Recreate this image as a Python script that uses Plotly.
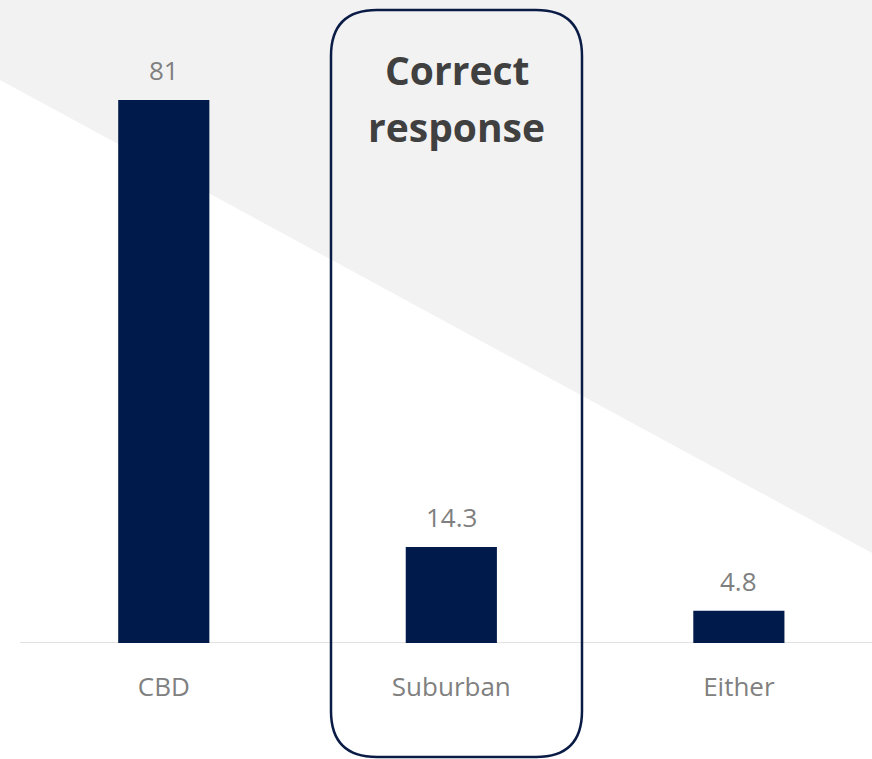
import plotly.graph_objects as go

categories = ["CBD", "Suburban", "Either"]
values = [81, 14.3, 4.8]
value_labels = ["81", "14.3", "4.8"]
highlight_lines = ["Correct", "response"]

W, H = 872, 759
ML, MR, MT, MB = 20, 0, 0, 116
PW, PH = W - ML - MR, H - MT - MB

def px(x):
    return (x - ML) / PW

def py(y):
    return (H - MB - y) / PH

fig = go.Figure()
fig.add_trace(go.Bar(
    x=list(range(len(categories))), y=values,
    marker=dict(color="#001A4C", line=dict(width=0)),
    width=0.317, hoverinfo="skip",
))

for i, (v, t) in enumerate(zip(values, value_labels)):
    fig.add_annotation(x=i, y=v, text=t, showarrow=False, yanchor="bottom",
                       yshift=10, font=dict(size=26, color="#7F7F7F", family="Open Sans"))

# background diagonal
bg = f"M {px(0)} {py(0)} L {px(872)} {py(0)} L {px(872)} {py(553)} L {px(0)} {py(80)} Z"
fig.add_shape(type="path", path=bg, xref="paper", yref="paper",
              fillcolor="#F2F2F2", line=dict(width=0), layer="below")

# rounded rectangle
x0, x1, y0, y1, r = 331, 582, 10, 757, 46
p = (f"M {px(x0+r)} {py(y0)} L {px(x1-r)} {py(y0)} Q {px(x1)} {py(y0)} {px(x1)} {py(y0+r)} "
     f"L {px(x1)} {py(y1-r)} Q {px(x1)} {py(y1)} {px(x1-r)} {py(y1)} "
     f"L {px(x0+r)} {py(y1)} Q {px(x0)} {py(y1)} {px(x0)} {py(y1-r)} "
     f"L {px(x0)} {py(y0+r)} Q {px(x0)} {py(y0)} {px(x0+r)} {py(y0)} Z")
fig.add_shape(type="path", path=p, xref="paper", yref="paper",
              line=dict(color="#0A1B45", width=2.5), fillcolor="rgba(0,0,0,0)", layer="above")

for line, yc in zip(highlight_lines, [70, 127]):
    fig.add_annotation(x=px((x0 + x1) / 2), y=py(yc), xref="paper", yref="paper",
                       text=f"<b>{line}</b>", showarrow=False, yanchor="middle",
                       font=dict(size=39, color="#404040", family="Open Sans"))

# axis baseline
fig.add_shape(type="line", xref="paper", yref="y", x0=0, x1=1, y0=0, y1=0,
              line=dict(color="#D9D9D9", width=1.5), layer="below")

fig.update_layout(
    width=W, height=H, margin=dict(l=ML, r=MR, t=MT, b=MB),
    paper_bgcolor="white", plot_bgcolor="rgba(0,0,0,0)",
    showlegend=False,
    xaxis=dict(range=[-0.5, 2.463], tickmode="array", tickvals=list(range(len(categories))),
               ticktext=categories, showgrid=False, zeroline=False, showline=False,
               ticks="", ticklabelstandoff=26,
               tickfont=dict(size=26, color="#808080", family="Open Sans")),
    yaxis=dict(range=[0, 95.9], visible=False),
)
fig.write_html("out.html", config={"displayModeBar": False},
               post_script="document.body.style.margin='0px';document.body.style.overflow='hidden';")
